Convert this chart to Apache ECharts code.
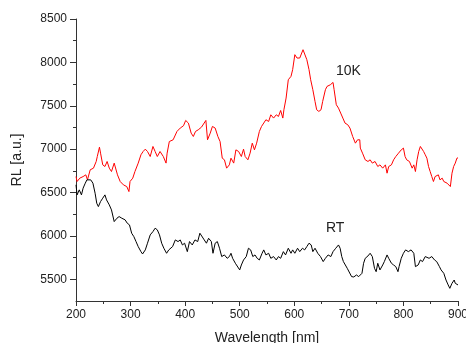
<!DOCTYPE html>
<html>
<head>
<meta charset="utf-8">
<script src="https://cdn.jsdelivr.net/npm/echarts@6/dist/echarts.min.js"></script>
<style>
  html, body { margin: 0; padding: 0; background: #fff; }
  #chart { width: 466px; height: 343px; }
</style>
</head>
<body>
<div id="chart"></div>
<script>
// 10K spectrum (red)
const redWave = [200, 202, 207, 213, 218, 221, 226, 232, 237, 239, 243, 245, 249, 253, 257, 261, 265, 270, 273, 276,
  281, 287, 293, 297, 299, 304, 308, 314, 319, 323, 327, 331, 336, 341, 345, 349, 354, 360, 365, 367,
  371, 378, 385, 391, 397, 401, 406, 411, 415, 419, 424, 430, 433, 438, 441, 446, 450, 455, 460, 464,
  468, 472, 476, 481, 484, 489, 493, 498, 503, 507, 510, 515, 519, 523, 527, 531, 536, 540, 543, 548,
  553, 557, 562, 567, 571, 575, 579, 581, 585, 589, 594, 597, 601, 605, 610, 613, 616, 619, 623, 627,
  630, 634, 638, 641, 645, 649, 652, 657, 660, 666, 671, 673, 677, 681, 685, 689, 693, 698, 702, 707,
  712, 716, 720, 721, 725, 730, 735, 739, 743, 748, 753, 757, 762, 767, 770, 773, 778, 782, 786, 791,
  796, 800, 803, 806, 811, 816, 819, 822, 825, 828, 831, 834, 837, 840, 843, 846, 849, 852, 855, 858,
  861, 864, 867, 871, 874, 877, 880, 883, 886, 889, 892, 895, 898, 900]
const redRL = [6684, 6627, 6666, 6684, 6704, 6646, 6762, 6781, 6858, 6915, 7023, 6954, 6819, 6800, 6858, 6781, 6742, 6839, 6819, 6704,
  6627, 6588, 6569, 6511, 6627, 6666, 6742, 6839, 6935, 6973, 7000, 6973, 6915, 7031, 6973, 6915, 6973, 6915, 6839, 6954,
  7088, 7108, 7204, 7243, 7270, 7331, 7300, 7185, 7146, 7204, 7223, 7254, 7243, 7331, 7108, 7185, 7262, 7243, 7146, 7088,
  6896, 6877, 6781, 6819, 6896, 6839, 6992, 6973, 6915, 7000, 6915, 6877, 6954, 7069, 6992, 7069, 7204, 7262, 7281, 7339,
  7319, 7396, 7358, 7396, 7377, 7446, 7358, 7454, 7589, 7800, 7839, 7916, 8089, 8050, 8050, 8031, 8146, 8127, 8031, 7916,
  7800, 7685, 7550, 7454, 7435, 7454, 7550, 7685, 7723, 7742, 7769, 7685, 7512, 7473, 7416, 7358, 7300, 7281, 7243, 7146,
  7069, 7108, 7108, 7012, 6954, 6877, 6858, 6877, 6839, 6858, 6800, 6819, 6781, 6819, 6723, 6800, 6819, 6877, 6915, 6954,
  6992, 7012, 6915, 6877, 6858, 6781, 6819, 6742, 6877, 6973, 7031, 7050, 6973, 6935, 6896, 6800, 6742, 6684, 6627, 6684,
  6666, 6704, 6646, 6666, 6627, 6646, 6608, 6615, 6569, 6723, 6800, 6839, 6896, 6900]

// RT spectrum (black)
const rtWave = [200, 202, 206, 210, 213, 217, 220, 223, 227, 231, 235, 238, 241, 245, 249, 253, 256, 261, 265, 270,
  275, 279, 284, 287, 290, 294, 298, 302, 306, 310, 314, 319, 322, 327, 331, 336, 341, 345, 349, 353,
  357, 361, 366, 370, 372, 377, 382, 387, 391, 395, 399, 404, 408, 413, 418, 423, 427, 430, 435, 439,
  443, 448, 451, 455, 459, 463, 467, 472, 477, 481, 484, 487, 492, 495, 500, 503, 507, 512, 516, 520,
  524, 528, 532, 536, 541, 544, 548, 553, 557, 562, 567, 571, 575, 580, 584, 589, 594, 597, 601, 606,
  610, 615, 619, 623, 627, 631, 634, 638, 643, 648, 653, 657, 662, 667, 671, 676, 681, 684, 687, 690,
  693, 697, 700, 705, 709, 714, 718, 721, 724, 727, 730, 735, 739, 743, 747, 750, 753, 757, 762, 765,
  770, 773, 778, 782, 786, 790, 792, 796, 800, 804, 809, 814, 819, 822, 827, 831, 835, 840, 843, 847,
  852, 857, 861, 866, 869, 874, 878, 882, 885, 889, 893, 895, 900]
const rtRL = [6589, 6473, 6531, 6473, 6550, 6608, 6646, 6627, 6646, 6608, 6492, 6377, 6338, 6396, 6435, 6473, 6415, 6358, 6300, 6165,
  6204, 6223, 6204, 6223, 6185, 6146, 6127, 6031, 5992, 5935, 5877, 5819, 5792, 5839, 5916, 6012, 6050, 6089, 6070, 6012,
  5916, 5858, 5800, 5839, 5839, 5877, 5954, 5935, 5954, 5896, 5916, 5819, 5935, 5896, 5954, 5935, 6031, 6050, 5954, 5916,
  5973, 5935, 5800, 5916, 5935, 5858, 5762, 5781, 5742, 5762, 5800, 5742, 5685, 5665, 5608, 5665, 5723, 5762, 5858, 5839,
  5762, 5781, 5742, 5723, 5800, 5839, 5781, 5800, 5742, 5762, 5723, 5762, 5742, 5819, 5781, 5858, 5800, 5839, 5800, 5858,
  5819, 5858, 5839, 5877, 5916, 5896, 5819, 5858, 5800, 5762, 5704, 5742, 5781, 5762, 5819, 5858, 5896, 5858, 5762, 5704,
  5685, 5627, 5608, 5531, 5527, 5550, 5531, 5531, 5569, 5685, 5742, 5769, 5800, 5762, 5627, 5588, 5685, 5608, 5665, 5704,
  5781, 5742, 5685, 5665, 5646, 5588, 5646, 5742, 5800, 5839, 5819, 5839, 5800, 5646, 5665, 5723, 5704, 5762, 5781, 5742,
  5762, 5723, 5704, 5646, 5608, 5569, 5492, 5435, 5396, 5454, 5492, 5454, 5435]

// axis ticks
const xMajor = [200, 300, 400, 500, 600, 700, 800, 900]
const xMinor = [250, 350, 450, 550, 650, 750, 850]
const yMajor = [5500, 6000, 6500, 7000, 7500, 8000, 8500]
const yMinor = [5750, 6250, 6750, 7250, 7750, 8250]

const FONT = '"Liberation Sans", Arial, Helvetica, sans-serif'
const INK = '#222'

const chart = echarts.init(document.getElementById('chart'))

const baseX = { type: 'value', min: 200, max: 900, splitLine: { show: false } }
const baseY = { type: 'value', min: 5250, max: 8500, splitLine: { show: false } }
const plain = (v) => String(v)

chart.setOption({
  animation: false,
  grid: { left: 76, right: 8, top: 19, bottom: 42, containLabel: false, outerBoundsMode: 'none' },
  xAxis: [
    {
      ...baseX,
      name: 'Wavelength [nm]',
      nameLocation: 'middle',
      nameGap: 30,
      nameTextStyle: { fontFamily: FONT, fontSize: 14, color: INK },
      axisLine: { onZero: false, lineStyle: { color: '#333', width: 1 } },
      axisTick: { length: 5, customValues: xMajor, lineStyle: { color: '#333' } },
      axisLabel: { customValues: xMajor, formatter: plain, margin: 8, fontFamily: FONT, fontSize: 12, color: INK }
    },
    {
      ...baseX,
      position: 'bottom',
      axisLine: { show: false },
      axisTick: { length: 3, customValues: xMinor, lineStyle: { color: '#333' } },
      axisLabel: { show: false }
    }
  ],
  yAxis: [
    {
      ...baseY,
      name: 'RL [a.u.]',
      nameLocation: 'middle',
      nameGap: 52,
      nameTextStyle: { fontFamily: FONT, fontSize: 14, color: INK },
      axisLine: { show: true, onZero: false, lineStyle: { color: '#333', width: 1 } },
      axisTick: { show: true, length: 6, customValues: yMajor, lineStyle: { color: '#333' } },
      axisLabel: { customValues: yMajor, formatter: plain, margin: 9, fontFamily: FONT, fontSize: 12, color: INK }
    },
    {
      ...baseY,
      position: 'left',
      axisLine: { show: false },
      axisTick: { show: true, length: 3, customValues: yMinor, lineStyle: { color: '#333' } },
      axisLabel: { show: false }
    }
  ],
  series: [
    {
      name: '10K',
      type: 'line',
      data: redWave.map((w, i) => [w, redRL[i]]),
      showSymbol: false,
      lineStyle: { color: '#ff0000', width: 1 },
      itemStyle: { color: '#ff0000' }
    },
    {
      name: 'RT',
      type: 'line',
      data: rtWave.map((w, i) => [w, rtRL[i]]),
      showSymbol: false,
      lineStyle: { color: '#000', width: 1 },
      itemStyle: { color: '#000' }
    }
  ],
  graphic: [
    { type: 'text', left: 336, top: 64, style: { text: '10K', font: '14px ' + FONT, fill: INK } },
    { type: 'text', left: 326, top: 221, style: { text: 'RT', font: '14px ' + FONT, fill: INK } }
  ]
})
</script>
</body>
</html>
